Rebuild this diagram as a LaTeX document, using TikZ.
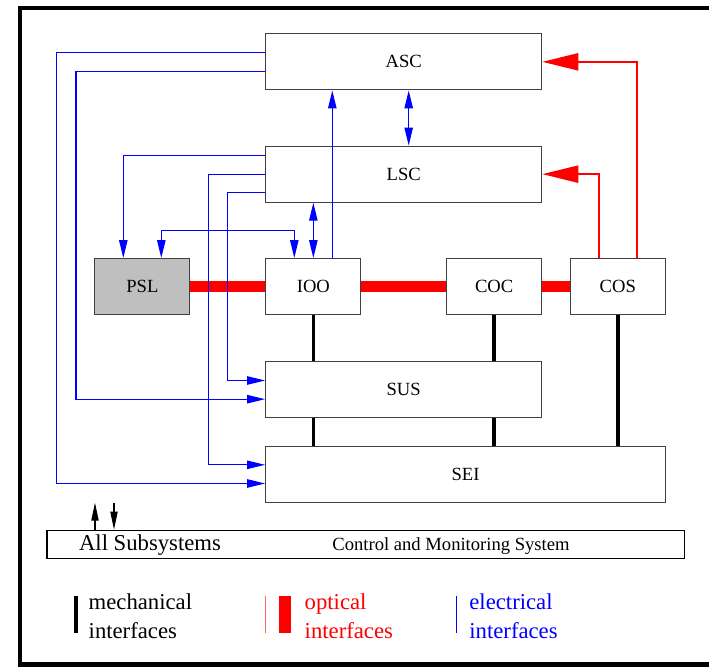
\documentclass[tikz,border=0pt]{standalone}
\usepackage{fontspec}
\setmainfont{Liberation Serif}
\usetikzlibrary{arrows.meta}

\begin{document}
\begin{tikzpicture}[x=0.5pt,y=-0.5pt]
    \tikzstyle{box}=[
        draw = black!75,
        line width = 0.6pt,
        minimum width = 138pt,
        minimum height = 28pt,
        inner sep = 0pt,
        font = \fontsize{9.3}{11}\selectfont
    ]
    \tikzstyle{small box}=[
        box,
        minimum width = 47.5pt
    ]
    \tikzstyle{elec}=[
        draw = blue,
        line width = 0.6pt,
        >={Triangle[length=9pt,width=4.2pt]}
    ]
    \tikzstyle{optic}=[
        draw = red,
        line width = 5.3pt
    ]
    \tikzstyle{optic link}=[
        draw = red,
        line width = 1.1pt,
        -{Triangle[length=18pt,width=8.5pt]}
    ]
    \tikzstyle{mech}=[
        draw = black,
        line width = 1.8pt
    ]
    \tikzstyle{legend}=[
        align = left,
        anchor = north west,
        inner sep = 0pt,
        font = \fontsize{11.35}{14.5}\selectfont
    ]

    \useasboundingbox (0,0) rectangle (709,667);
    \draw[line width=2.2pt] (20,8) rectangle (740,664.7);

	\node[box]                     (asc) at (403.7, 61.85)  {ASC};
	\node[box]                     (lsc) at (403.7, 174.15) {LSC};
	\node[small box, fill=black!25] (psl) at (142.35, 286.65) {PSL};
	\node[small box]               (ioo) at (313.35, 286.65) {IOO};
	\node[small box]               (coc) at (494.2, 286.65)  {COC};
	\node[small box]               (cos) at (617.8, 286.65)  {COS};
	\node[box]                     (sus) at (403.7, 389.85) {SUS};
	\node[box, minimum width=199.8pt] (sei) at (465.5, 474.15) {SEI};
	\node[box, draw=black, minimum width=318.65pt, minimum height=14.2pt] (cms) at (365.65, 544.5) {};
	\node[anchor=base, inner sep=0pt, font=\fontsize{11.35}{13}\selectfont] (allsub) at (150, 550.5) {All Subsystems};
	\node[anchor=base, inner sep=0pt, font=\fontsize{9.3}{11}\selectfont]   (cmstext) at (451, 550.5) {Control and Monitoring System};

    \coordinate (ascU) at ([yshift=4.67pt]asc.west);
    \coordinate (ascL) at ([yshift=-4.67pt]asc.west);
    \coordinate (lscU) at ([yshift=9.3pt]lsc.west);
    \coordinate (lscL) at ([yshift=-9.3pt]lsc.west);
    \coordinate (susU) at ([yshift=4.67pt]sus.west);
    \coordinate (susL) at ([yshift=-4.67pt]sus.west);
    \coordinate (seiU) at ([yshift=4.67pt]sei.west);
    \coordinate (seiL) at ([yshift=-4.67pt]sei.west);
    \coordinate (b1) at (56.7, 0);
    \coordinate (b2) at (76, 0);
    \coordinate (b3) at (123.3, 0);
    \coordinate (b4) at (208.7, 0);
    \coordinate (b5) at (227.7, 0);
    \coordinate (b6) at (161.3, 0);
    \coordinate (b7) at (294.3, 230.7);
    \coordinate (b8) at (332.3, 0);
    \coordinate (b9) at (408.7, 0);
    \coordinate (r1) at (598.7, 0);
    \coordinate (r2) at (636.7, 0);
    \coordinate (up) at (95, 502.7);
    \coordinate (down) at (114, 502.7);

	\path[optic] (psl) edge (ioo);
	\path[optic] (ioo) edge (coc);
	\path[optic] (coc) edge (cos);
	\draw[optic link] (r2 |- cos.north) |- (asc.east);
	\draw[optic link] (r1 |- cos.north) |- (lsc.east);

	\draw[mech] (ioo.south) -- (ioo.south |- sus.north);
	\draw[mech] (ioo.south |- sus.south) -- (ioo.south |- sei.north);
	\draw[mech] (coc.south) -- (coc.south |- sus.north);
	\draw[mech] (coc.south |- sus.south) -- (coc.south |- sei.north);
	\draw[mech] (cos.south) -- (cos.south |- sei.north);

	\draw[elec, ->] (ascU) -| (b1 |- seiL) -- (seiL);
	\draw[elec, ->] (ascL) -| (b2 |- susL) -- (susL);
	\draw[elec, ->] (lscU) -| (b3 |- psl.north);
	\draw[elec, ->] (lsc.west) -| (b4 |- seiU) -- (seiU);
	\draw[elec, ->] (lscL) -| (b5 |- susU) -- (susU);
	\draw[elec, <->] (b6 |- psl.north) |- (b7) -- (b7 |- ioo.north);
	\draw[elec, <->] (ioo.north) -- (ioo.north |- lsc.south);
	\draw[elec, ->] (b8 |- ioo.north) -- (b8 |- asc.south);
	\draw[elec, <->] (b9 |- asc.south) -- (b9 |- lsc.north);

	\draw[line width=0.6pt, -{Triangle[length=9pt,width=3.6pt]}] (up |- cms.north) -- (up);
	\draw[line width=0.6pt, -{Triangle[length=9pt,width=3.6pt]}] (down) -- (down |- cms.north);

    \draw[line width=1.9pt] (75.7, 596) -- (75.7, 633.3);
    \node[legend] (mechtext) at (88.3, 593) {mechanical\\interfaces};
    \draw[red!60, line width=0.5pt] (265.7, 596) -- (265.7, 633.3);
    \fill[red] (279.3, 596) rectangle (290.7, 633.3);
    \node[legend, text=red] (optictext) at (304.3, 593) {optical\\interfaces};
    \draw[blue, line width=0.5pt] (456.7, 596) -- (456.7, 633.3);
    \node[legend, text=blue] (electext) at (469, 593) {electrical\\interfaces};

	\end{tikzpicture}
\end{document}
